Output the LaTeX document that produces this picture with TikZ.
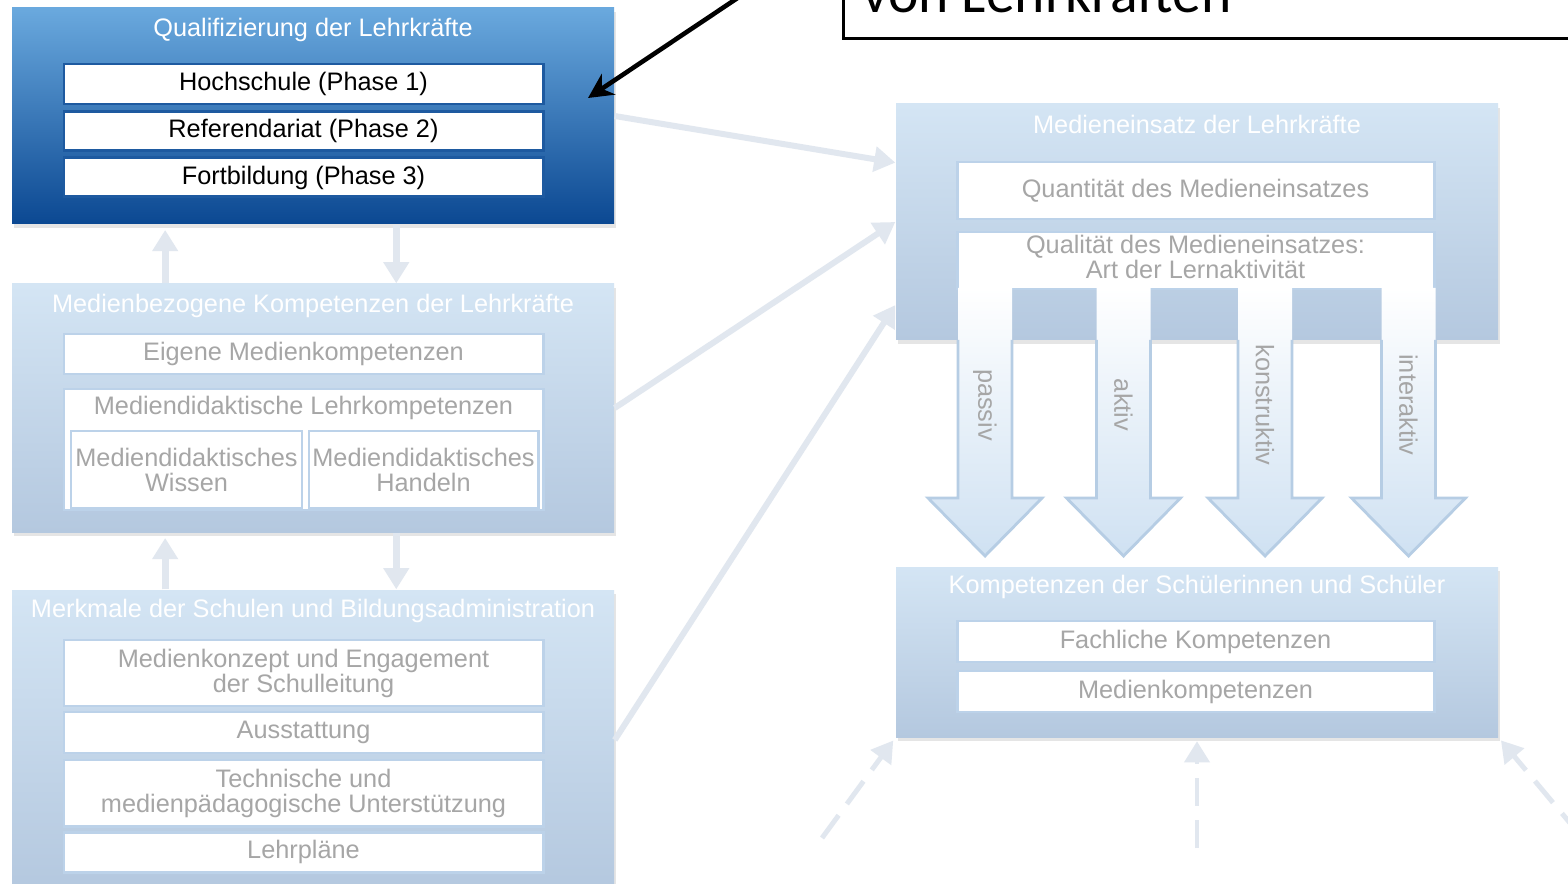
\documentclass[tikz,border=0pt]{standalone}
\usepackage{fontspec}
\setmainfont{Liberation Sans}
\newfontfamily\notefont{Carlito}
\usepackage{tikz}
\usetikzlibrary{arrows.meta, positioning, calc, shadows}
\definecolor{qtop}{RGB}{106,169,222}
\definecolor{qbot}{RGB}{11,72,146}
\definecolor{qframe}{RGB}{30,90,160}
\definecolor{boxtop}{RGB}{212,229,244}
\definecolor{boxbot}{RGB}{180,200,223}
\definecolor{itemframe}{RGB}{188,210,233}
\definecolor{txtgray}{RGB}{166,166,166}
\definecolor{linkgray}{RGB}{225,231,239}
\definecolor{arrowframe}{RGB}{182,205,228}
\definecolor{arrowbot}{RGB}{207,225,242}
\newcommand{\mytext}{\fontsize{7.2}{7.1}\selectfont}
\tikzset{
  bigbox/.style={rectangle, minimum width=6.02cm, inner sep=0pt,
    top color=boxtop, bottom color=boxbot,
    drop shadow={opacity=0.2, shadow xshift=0.6pt, shadow yshift=-1.2pt}},
  qualbox/.style={bigbox, top color=qtop, bottom color=qbot},
  boxtitle/.style={text=white, font=\mytext, inner sep=0pt},
  item/.style={rectangle, fill=white, draw=itemframe, line width=0.85pt,
    minimum width=4.79cm, inner sep=0pt, align=center,
    text=txtgray, font=\mytext},
  qualitem/.style={item, draw=qframe, text=black},
  subitem/.style={item, minimum height=0.77cm},
  link/.style={-{Triangle[length=6pt,width=7pt]}, line width=1.7pt, color=linkgray},
  vlink/.style={link, line width=2pt},
  dashlink/.style={link, line width=1.4pt, dash pattern=on 8pt off 4pt},
  pointer/.style={-{Stealth[length=7pt,width=7pt]}, line width=1.3pt, color=black},
  notebox/.style={rectangle, draw=black, line width=0.8pt, fill=white,
    minimum width=8cm, minimum height=1.5cm},
  notetext/.style={font=\notefont\fontsize{16.4}{18}\selectfont, inner sep=0pt},
  actfill/.style={top color=white, bottom color=arrowbot},
  actframe/.style={draw=arrowframe, line width=0.8pt},
  actlabel/.style={rotate=-90, text=txtgray, font=\mytext, inner sep=0pt}
}

\begin{document}
\begin{tikzpicture}
  \fill[white] (0,0) rectangle (15.68,-8.84);
  \useasboundingbox (0,0) rectangle (15.68,-8.84);

  % Qualifizierung (top left)
  \node[qualbox, minimum height=2.16cm] (qual) at (3.13,-1.16) {};
  \node[boxtitle] (qualtitle) at (3.13,-0.30) {Qualifizierung der Lehrkräfte};
  \node[qualitem, minimum height=0.40cm] (hoch) at (3.035,-0.84) {Hochschule (Phase 1)};
  \node[qualitem, minimum height=0.39cm, below=0.045cm of hoch] (ref) {Referendariat (Phase 2)};
  \node[qualitem, minimum height=0.39cm, below=0.045cm of ref] (fort) {Fortbildung (Phase 3)};

  % Medienbezogene Kompetenzen (middle left)
  \node[bigbox, minimum height=2.48cm] (medien) at (3.13,-4.08) {};
  \node[boxtitle] (medientitle) at (3.13,-3.06) {Medienbezogene Kompetenzen der Lehrkräfte};
  \node[item, minimum height=0.40cm] (eigen) at (3.035,-3.54) {Eigene Medienkompetenzen};
  \node[item, minimum height=1.21cm] (lehr) at (3.035,-4.495) {};
  \node[boxtitle, text=txtgray] (lehrtitle) at (3.035,-4.08) {Mediendidaktische Lehrkompetenzen};
  \node[subitem, minimum width=2.31cm] (wissen) at (1.865,-4.695) {Mediendidaktisches\\Wissen};
  \node[subitem, minimum width=2.29cm] (handeln) at (4.235,-4.695) {Mediendidaktisches\\Handeln};

  % Merkmale der Schulen (bottom left)
  \node[bigbox, minimum height=3.0cm] (merk) at (3.13,-7.40) {};
  \node[boxtitle] (merktitle) at (3.13,-6.11) {Merkmale der Schulen und Bildungsadministration};
  \node[item, minimum height=0.66cm] (konzept) at (3.035,-6.73) {Medienkonzept und Engagement\\der Schulleitung};
  \node[item, minimum height=0.41cm] (ausst) at (3.035,-7.325) {Ausstattung};
  \node[item, minimum height=0.66cm] (technik) at (3.035,-7.93) {Technische und\\medienpädagogische Unterstützung};
  \node[item, minimum height=0.40cm] (lehrpl) at (3.035,-8.52) {Lehrpläne};

  % Medieneinsatz (top right)
  \node[bigbox, minimum height=2.36cm] (einsatz) at (11.97,-2.22) {};
  \node[boxtitle] (einsatztitle) at (11.97,-1.24) {Medieneinsatz der Lehrkräfte};
  \node[item, minimum width=4.77cm, minimum height=0.57cm] (quanti) at (11.955,-1.905) {Quantität des Medieneinsatzes};
  \node[item, minimum width=4.77cm, minimum height=0.57cm] (quali) at (11.955,-2.605) {};
  \node[boxtitle, text=txtgray, align=center] (qualitext) at (11.955,-2.57) {Qualität des Medieneinsatzes:\\Art der Lernaktivität};

  % Kompetenzen der Schueler (bottom right)
  \node[bigbox, minimum height=1.70cm] (schueler) at (11.97,-6.52) {};
  \node[boxtitle] (schuelertitle) at (11.97,-5.87) {Kompetenzen der Schülerinnen und Schüler};
  \node[item, minimum width=4.77cm, minimum height=0.41cm] (fach) at (11.955,-6.415) {Fachliche Kompetenzen};
  \node[item, minimum width=4.77cm, minimum height=0.41cm] (mkomp) at (11.955,-6.915) {Medienkompetenzen};

  % Lernaktivitaeten
  \foreach \x/\word in {9.85/passiv, 11.235/aktiv, 12.65/konstruktiv, 14.085/interaktiv}{
    \path[actfill] (\x-0.27,-2.88) -- (\x+0.27,-2.88) -- (\x+0.27,-4.98) -- (\x+0.57,-4.98)
      -- (\x,-5.56) -- (\x-0.57,-4.98) -- (\x-0.27,-4.98) -- cycle;
    \draw[actframe] (\x+0.27,-3.40) -- (\x+0.27,-4.98) -- (\x+0.57,-4.98)
      -- (\x,-5.56) -- (\x-0.57,-4.98) -- (\x-0.27,-4.98) -- (\x-0.27,-3.40);
    \node[actlabel] (\word) at (\x,-4.05) {\word};
  }

  % Verbindungen
  \draw[vlink, shorten >=1.5pt] ($(medien.north west)!0.255!(medien.north east)$) -- ($(qual.south west)!0.255!(qual.south east)$);
  \draw[vlink] ($(qual.south west)!0.638!(qual.south east)$) -- ($(medien.north west)!0.638!(medien.north east)$);
  \draw[vlink, shorten >=1.5pt] ($(merk.north west)!0.255!(merk.north east)$) -- ($(medien.south west)!0.255!(medien.south east)$);
  \draw[vlink] ($(medien.south west)!0.638!(medien.south east)$) -- ($(merk.north west)!0.638!(merk.north east)$);
  \draw[link] (qual.east) -- ($(einsatz.north west)!0.25!(einsatz.south west)$);
  \draw[link] (medien.east) -- (einsatz.west);
  \draw[link] (merk.east) -- ($(einsatz.north west)!0.85!(einsatz.south west)$);

  \coordinate (dashA) at (8.22,-8.38);
  \coordinate (dashB) at (11.97,-8.48);
  \coordinate (dashC) at (15.80,-8.35);
  \draw[dashlink, shorten >=1pt] (dashA) -- (schueler.south west);
  \draw[dashlink, shorten >=1pt] (dashB) -- (schueler.south);
  \draw[dashlink, shorten >=1pt] (dashC) -- (schueler.south east);

  % Hinweis (oben rechts)
  \node[notebox, anchor=south west] (note) at (8.42,-0.40) {};
  \node[notetext, anchor=base west] (notetext) at (8.62,-0.13) {von Lehrkräften};
  \coordinate (ptrstart) at (7.57,0.15);
  \coordinate (ptrend) at (5.88,-0.98);
  \draw[pointer] (ptrstart) -- (ptrend);
\end{tikzpicture}
\end{document}
